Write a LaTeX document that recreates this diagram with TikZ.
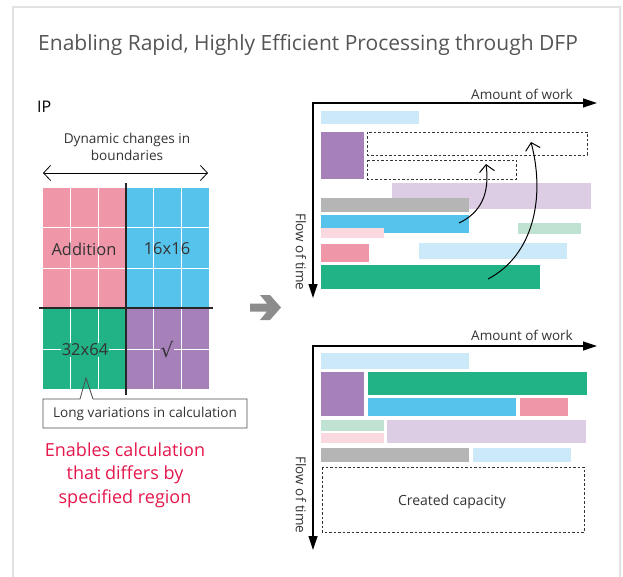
\documentclass[tikz,border=0pt]{standalone}
\usepackage{fontspec}
\setmainfont{Open Sans}
\newfontfamily\symfont{DejaVu Sans}
\usetikzlibrary{arrows.meta}

\definecolor{pinkc}{HTML}{EF97A9}
\definecolor{bluec}{HTML}{56C3EC}
\definecolor{greenc}{HTML}{21B286}
\definecolor{purplec}{HTML}{A680B8}
\definecolor{lblue}{HTML}{CBE9F8}
\definecolor{lpurple}{HTML}{DCCDE5}
\definecolor{grayc}{HTML}{B4B5B4}
\definecolor{lpink}{HTML}{F9D9DF}
\definecolor{lgreen}{HTML}{C0E2D2}
\definecolor{redtxt}{HTML}{E5174B}
\definecolor{txtgray}{HTML}{333333}
\definecolor{titlegray}{HTML}{555555}
\definecolor{arrowgray}{HTML}{8C8C8C}
\definecolor{framegray}{HTML}{E2E2E2}

\newcommand{\fs}[1]{\fontsize{#1}{1.2\dimexpr#1pt\relax}\selectfont}

\begin{document}
\begin{tikzpicture}[x=1pt, y=-1pt,
  every node/.style={text=txtgray, inner sep=1pt, font=\fs{13.5}},
  dashbox/.style={draw=black!80, dash pattern=on 2.5pt off 2pt, line width=0.8pt},
  axis/.style={line width=1.2pt, -{Triangle[length=14pt,width=9pt]}},
  bendarrow/.style={line width=1pt, -{Straight Barb[length=7pt,width=15pt]}}]
\useasboundingbox (0,0) rectangle (623,577);
\draw[framegray, line width=1.5pt] (13,590) -- (13,7) -- (620,7) -- (620,590);

\node[anchor=west, text=titlegray, font=\fs{21}] (title) at (37,45) {Enabling Rapid, Highly Efficient Processing through DFP};

% IP grid on the left
\node[anchor=west, text=black, font=\fs{16}] (ip) at (36,107) {IP};
\node[align=center, font=\fontsize{13.6}{17}\selectfont] (dyn) at (127,147) {Dynamic changes in\\boundaries};
\draw[line width=0.8pt, {Straight Barb[length=7pt,width=15pt]}-{Straight Barb[length=7pt,width=15pt]}] (43,173) -- (208,173);

\fill[pinkc] (43,188) rectangle (126,308);
\fill[bluec] (126,188) rectangle (209,308);
\fill[greenc] (43,308) rectangle (126,389);
\fill[purplec] (126,308) rectangle (209,389);
\foreach \x in {70.7,98.3,153.7,181.3}
  \draw[white, line width=1pt] (\x,188) -- (\x,389);
\foreach \y in {228,268,349}
  \draw[white, line width=1pt] (43,\y) -- (209,\y);
\draw[line width=1.3pt, black!85] (39,308) -- (213,308);
\draw[line width=1.3pt, black!85] (126,183) -- (126,395);

\node[font=\fs{16.5}] (add) at (84,249) {Addition};
\node[font=\fs{16.5}] (sixteen) at (167,249) {16x16};
\node[font=\fs{16.5}, fill=greenc] (thirtytwo) at (85,350) {32x64};
\node[font=\symfont\fs{20}, fill=purplec] (root) at (167,350) {√};

\draw[line width=0.8pt, black!70] (80,399) -- (86,378) -- (93,399) -- (247,399) -- (247,428) -- (43,428) -- (43,399) -- cycle;
\node[font=\fs{13.6}] (longvar) at (145,414) {Long variations in calculation};
\node[align=center, text=redtxt, font=\fontsize{18}{23.5}\selectfont] (enables) at (125,475) {Enables calculation\\that differs by\\specified region};

% big gray arrow
\fill[arrowgray] (250,303.5) -- (267,303.5) -- (260,295) -- (270,295) -- (281,307.5) -- (270,320) -- (260,320) -- (267,311.5) -- (250,311.5) -- cycle;

% upper chart: before DFP
\draw[axis] (313,103) -- (597,103);
\draw[axis] (313,102.4) -- (313,298);
\node (work1) at (522,94) {Amount of work};
\node[rotate=-90] (time1) at (301,252) {Flow of time};
\fill[lblue] (321,111) rectangle (419,124);
\fill[purplec] (321,132) rectangle (364,179);
\draw[dashbox] (367,132) rectangle (587,155);
\draw[dashbox] (367,160) rectangle (516,179);
\fill[lpurple] (392,183) rectangle (591,209);
\fill[grayc] (321,198) rectangle (469,212);
\fill[bluec] (321,215) rectangle (469,233);
\fill[lpink] (321,228) rectangle (384,238);
\fill[lgreen] (518,223) rectangle (581,234);
\fill[pinkc] (321,244) rectangle (369,262);
\fill[lblue] (419,243) rectangle (567,259);
\fill[greenc] (321,265) rectangle (540,289);
\coordinate (from1) at (459,223);
\coordinate (to1) at (486,164);
\coordinate (from2) at (488,279);
\coordinate (to2) at (531,142);
\draw[bendarrow] (from1) .. controls (480,213) and (490,195) .. (to1);
\draw[bendarrow] (from2) .. controls (532,256) and (546,200) .. (to2);

% lower chart: after DFP
\draw[axis] (313,346) -- (597,346);
\draw[axis] (313,345.4) -- (313,550);
\node (work2) at (522,335) {Amount of work};
\node[rotate=-90] (time2) at (301,495) {Flow of time};
\fill[lblue] (321,353) rectangle (469,369);
\fill[purplec] (321,372) rectangle (364,416);
\fill[greenc] (368,372) rectangle (587,395);
\fill[bluec] (368,398) rectangle (516,416);
\fill[pinkc] (520,398) rectangle (568,416);
\fill[lgreen] (321,420) rectangle (384,431);
\fill[lpink] (321,433) rectangle (384,443);
\fill[lpurple] (387,420) rectangle (586,443);
\fill[grayc] (321,448) rectangle (469,462);
\fill[lblue] (473,448) rectangle (571,462);
\draw[dashbox] (322,467) rectangle (584,532);
\node[font=\fs{14}] (capacity) at (452,502) {Created capacity};
\end{tikzpicture}
\end{document}
